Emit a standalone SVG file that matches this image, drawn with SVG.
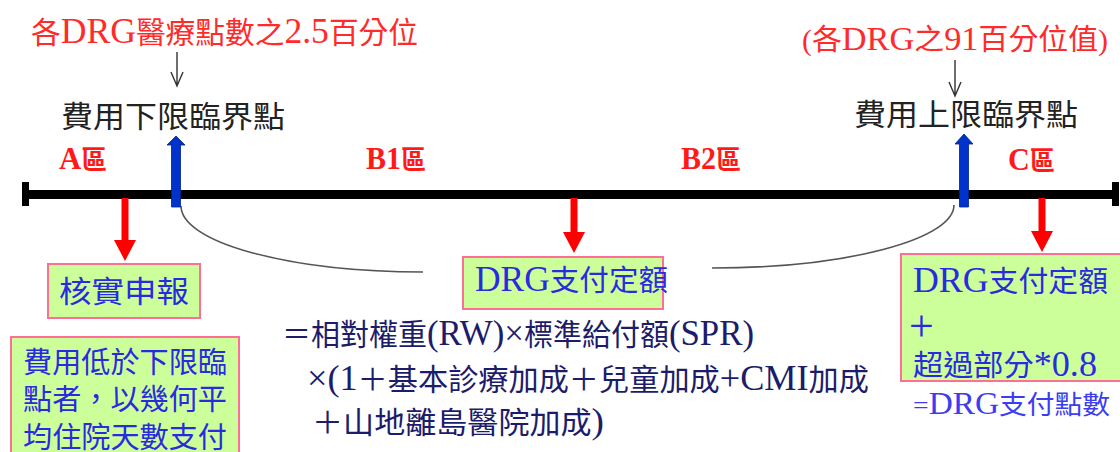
<svg xmlns="http://www.w3.org/2000/svg" width="1120" height="452" viewBox="0 0 1120 452">
<style>
text{font-family:"Liberation Serif","Noto Sans CJK TC",serif;}
.L{font-size:1.2em;}
.M{font-size:1.15em;}
.red{fill:#ff2a2a;font-size:30px;}
.lbl{fill:#222;font-size:30px;}
.zone{fill:#ff1a1a;font-size:26px;font-weight:bold;}
.box{fill:#ccff99;stroke:#ff6f95;stroke-width:2;}
.bt{fill:#2a2ae0;font-size:29px;}
.fm{fill:#1c1c6a;font-size:30px;}
.res{fill:#3c3cf0;font-size:26px;}
.curve{fill:none;stroke:#555;stroke-width:1.6;}
.thin{fill:none;stroke:#333;stroke-width:1.4;}
.redarr{fill:#ff0000;}
.bluearr{fill:#0033cc;stroke:#001f8a;stroke-width:0.8;}
</style>
<rect width="1120" height="452" fill="#fff"/>

<g id="title-lower">
<text class="red" x="31" y="43" textLength="387" lengthAdjust="spacingAndGlyphs">各<tspan class="L">DRG</tspan>醫療點數之<tspan class="L">2.5</tspan>百分位</text>
</g>
<g id="title-upper">
<text class="red" x="802" y="50" style="font-size:29px" textLength="306" lengthAdjust="spacingAndGlyphs">(各<tspan class="M">DRG</tspan>之<tspan class="M">91</tspan>百分位值)</text>
</g>
<g id="label-lower">
<text class="lbl" x="61" y="127" textLength="224" lengthAdjust="spacingAndGlyphs">費用下限臨界點</text>
</g>
<g id="label-upper">
<text class="lbl" x="854" y="125" textLength="224" lengthAdjust="spacingAndGlyphs">費用上限臨界點</text>
</g>

<g id="zones">
<text class="zone" x="59" y="169" textLength="48" lengthAdjust="spacingAndGlyphs"><tspan class="L">A</tspan>區</text>
<text class="zone" x="366" y="169" textLength="60" lengthAdjust="spacingAndGlyphs"><tspan class="L">B1</tspan>區</text>
<text class="zone" x="681" y="169" textLength="60" lengthAdjust="spacingAndGlyphs"><tspan class="L">B2</tspan>區</text>
<text class="zone" x="1008" y="170" textLength="47" lengthAdjust="spacingAndGlyphs"><tspan class="L">C</tspan>區</text>
</g>

<g id="axis">
<rect x="26" y="190" width="1090" height="9" fill="#000"/>
<rect x="22" y="182" width="7" height="24" fill="#000"/>
<rect x="1112" y="182" width="7" height="24" fill="#000"/>
</g>

<g id="connectors">
<path class="thin" d="M177,52 L177,86 M171,72 L177,86 L183,72"/>
<path class="thin" d="M955,60 L955,96 M949,82 L955,96 L961,82"/>
<path class="curve" d="M181,206 A242,66 0 0 0 423,272"/>
<path class="curve" d="M712,268 A242,63 0 0 0 954,205"/>
<polygon class="redarr" points="121.5,198 128.5,198 128.5,240 136,240 125,261 114,240 121.5,240"/>
<polygon class="redarr" points="570.5,198 577.5,198 577.5,232 585,232 574,253 563,232 570.5,232"/>
<polygon class="redarr" points="1038.5,198 1045.5,198 1045.5,231 1053,231 1042,252 1031,231 1038.5,231"/>
</g>

<g id="marker-lower">
<polygon class="bluearr" points="171.5,207 180.5,207 180.5,145 185,145 176,136 167,145 171.5,145"/>
</g>
<g id="marker-upper">
<polygon class="bluearr" points="959.5,207 968.5,207 968.5,144 973,144 964,134 955,144 959.5,144"/>
</g>

<g id="box-a">
<rect class="box" x="48" y="264" width="152" height="54"/>
<text class="bt" x="59" y="302" style="font-size:30px" textLength="130" lengthAdjust="spacingAndGlyphs">核實申報</text>
</g>

<g id="box-a-note">
<rect class="box" x="11" y="337" width="228" height="125"/>
<text class="bt" x="23" y="373" textLength="204" lengthAdjust="spacingAndGlyphs">費用低於下限臨</text>
<text class="bt" x="23" y="410" textLength="204" lengthAdjust="spacingAndGlyphs">點者，以幾何平</text>
<text class="bt" x="23" y="448" textLength="204" lengthAdjust="spacingAndGlyphs">均住院天數支付</text>
</g>

<g id="box-b">
<rect class="box" x="463" y="257" width="200" height="52"/>
<text class="bt" x="475" y="291" textLength="193" lengthAdjust="spacingAndGlyphs"><tspan class="L">DRG</tspan>支付定額</text>
</g>

<g id="formula">
<text class="fm" x="282" y="345" textLength="472" lengthAdjust="spacingAndGlyphs">＝相對權重<tspan class="L">(RW)×</tspan>標準給付額<tspan class="L">(SPR)</tspan></text>
<text class="fm" x="307" y="390" textLength="562" lengthAdjust="spacingAndGlyphs"><tspan class="L">×(1</tspan>＋基本診療加成＋兒童加成<tspan class="L">+CMI</tspan>加成</text>
<text class="fm" x="312" y="433" textLength="292" lengthAdjust="spacingAndGlyphs">＋山地離島醫院加成<tspan class="L">)</tspan></text>
</g>

<g id="box-c">
<rect class="box" x="901" y="254" width="230" height="127"/>
<text class="bt" x="913" y="292" textLength="195" lengthAdjust="spacingAndGlyphs"><tspan class="L">DRG</tspan>支付定額</text>
<text class="bt" x="909" y="341" style="font-size:44px">+</text>
<text class="bt" x="913" y="376" textLength="184" lengthAdjust="spacingAndGlyphs">超過部分<tspan class="L">*0.8</tspan></text>
</g>

<g id="c-result">
<text class="res" x="913" y="414" textLength="197" lengthAdjust="spacingAndGlyphs">=<tspan class="L">DRG</tspan>支付點數</text>
</g>
</svg>
